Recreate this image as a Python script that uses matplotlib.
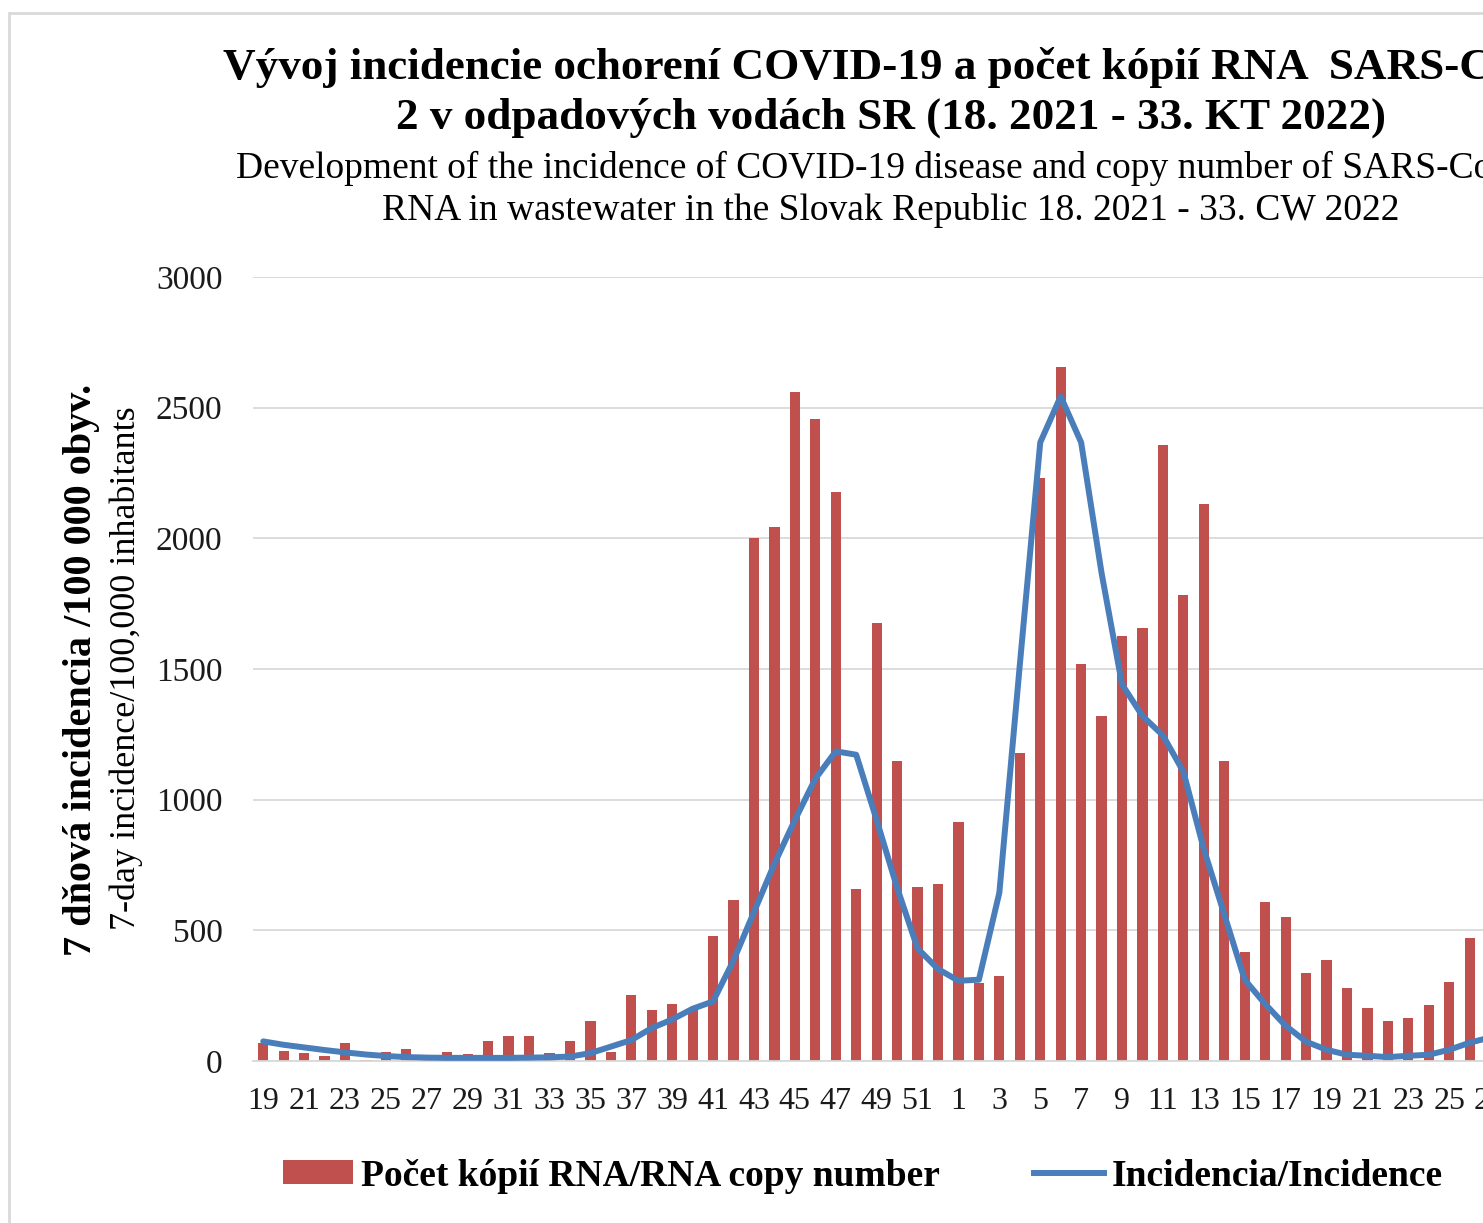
import numpy as np
import matplotlib
matplotlib.use("Agg")
import matplotlib.pyplot as plt
from matplotlib.patches import Rectangle, Patch
from matplotlib.lines import Line2D

plt.rcParams['font.family'] = ['Liberation Serif', 'DejaVu Serif']

nan = np.nan
weeks_2021 = list(range(19, 53))
weeks_2022 = list(range(1, 34))
week_labels = [str(w) for w in weeks_2021 + weeks_2022]

# RNA copy number (bars), 2021 wk19..52 then 2022 wk1..33 (weeks off-image unknown)
rna_2021 = [70, 40, 30, 20, 70, 5, 33, 45, 5, 35, 25, 77, 96, 96, 32, 77, 154, 35,
            252, 194, 218, 204, 478, 617, 2000, 2043, 2561, 2456, 2176, 657, 1676, 1148,
            667, 676]
rna_2022 = [913, 300, 326, 1178, 2231, 2654, 1519, 1319, 1626, 1657, 2357, 1783, 2131,
            1148, 419, 607, 552, 335, 385, 278, 204, 154, 163, 213, 302, 469,
            nan, nan, nan, nan, nan, nan, nan]
# 7-day incidence (line)
inc_2021 = [75, 62, 52, 42, 33, 25, 19, 15, 13, 12, 12, 12, 12, 13, 14, 17, 30, 55,
            80, 126, 159, 200, 228, 385, 570, 755, 922, 1080, 1185, 1172, 922, 663,
            431, 352]
inc_2022 = [307, 311, 644, 1515, 2367, 2543, 2367, 1867, 1441, 1320, 1246, 1107, 811,
            561, 311, 218, 135, 74, 43, 24, 20, 15, 20, 24, 43, 70,
            90, nan, nan, nan, nan, nan, nan]

rna = np.array(rna_2021 + rna_2022, dtype=float)
inc = np.array(inc_2021 + inc_2022, dtype=float)
x = np.arange(len(week_labels))

W, H = 1483, 1223
fig = plt.figure(figsize=(W / 100, H / 100), dpi=100)
fig.patch.set_facecolor('white')

# chart frame
fig.add_artist(Rectangle((9 / W, -0.1), 2.0, 1 - 13 / H + 0.1, transform=fig.transFigure,
                         fill=False, edgecolor='#d9d9d9', linewidth=2.0))

left, right = 253 / W, 1623 / W
bottom, top = (H - 1061) / H, (H - 277) / H
ax = fig.add_axes([left, bottom, right - left, top - bottom])

ax.bar(x, np.nan_to_num(rna, nan=0.0), width=0.5, color='#c0504d', zorder=2)
ax.plot(x, inc, color='#4a7ebb', linewidth=4.3, solid_capstyle='round',
        solid_joinstyle='round', zorder=3)

ax.set_xlim(-0.5, len(x) - 0.5)
ax.set_ylim(0, 3000)
ax.set_yticks(np.arange(0, 3001, 500))
ax.set_xticks(x[::2])
ax.set_xticklabels(week_labels[::2])
ax.tick_params(axis='both', length=0, labelsize=23, colors='#1a1a1a')
ax.tick_params(axis='y', pad=22, labelsize=24)
ax.tick_params(axis='x', pad=19)
ax.grid(axis='y', color='#d9d9d9', linewidth=1.3, zorder=0)
ax.set_axisbelow(True)
for s in ['top', 'right', 'left']:
    ax.spines[s].set_visible(False)
ax.spines['bottom'].set_color('#d9d9d9')
ax.spines['bottom'].set_linewidth(1.3)

# y labels
fig.text(82 / W, 1 - 670 / H, '7 dňová incidencia /100 000 obyv.', rotation=90,
         ha='center', va='center', fontsize=29, fontweight='bold')
fig.text(126 / W, 1 - 668 / H, '7-day incidence/100,000 inhabitants', rotation=90,
         ha='center', va='center', fontsize=26)

# titles
cx = 891 / W
fig.text(cx, 1 - 68 / H, 'Vývoj incidencie ochorení COVID-19 a počet kópií RNA  SARS-CoV-',
         ha='center', va='center', fontsize=32.5, fontweight='bold')
fig.text(cx, 1 - 118 / H, '2 v odpadových vodách SR (18. 2021 - 33. KT 2022)',
         ha='center', va='center', fontsize=32.5, fontweight='bold')
fig.text(cx, 1 - 168 / H, 'Development of the incidence of COVID-19 disease and copy number of SARS-CoV-2',
         ha='center', va='center', fontsize=27)
fig.text(cx, 1 - 211 / H, 'RNA in wastewater in the Slovak Republic 18. 2021 - 33. CW 2022',
         ha='center', va='center', fontsize=27)

handles = [Patch(facecolor='#c0504d', edgecolor='none'),
           Line2D([0], [0], color='#4a7ebb', linewidth=4.3)]
fig.legend(handles, ['Počet kópií RNA/RNA copy number', 'Incidencia/Incidence'],
           loc='center left', bbox_to_anchor=(283 / W, 1 - 1176 / H), ncol=2,
           frameon=False, borderpad=0, borderaxespad=0, handlelength=1.87,
           handleheight=0.6, handletextpad=0.21, columnspacing=2.5,
           prop={'size': 27, 'weight': 'bold'})

fig.savefig('out.png', dpi=100)
